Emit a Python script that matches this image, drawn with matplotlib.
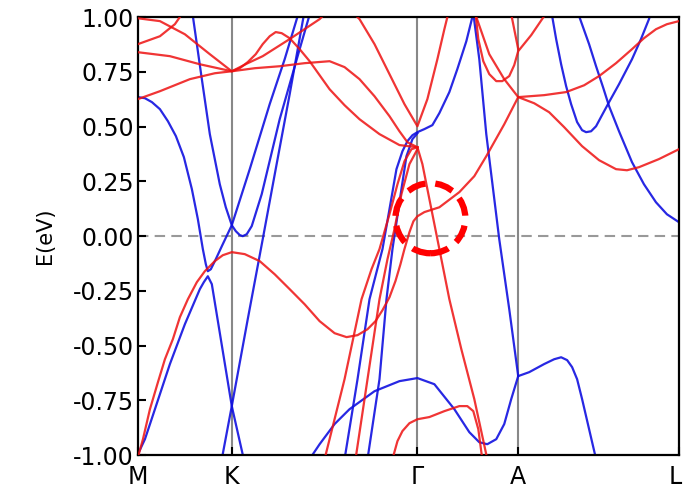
import matplotlib
matplotlib.use('Agg')
import matplotlib.pyplot as plt
import matplotlib.transforms as mtransforms
from matplotlib.patches import Ellipse

# puntos de alta simetria
kpath_labels = ['M', 'K', 'Γ', 'A', 'L']
kpath_pos = [0.0, 0.94, 2.80, 3.81, 5.42]

# ---- bandas rojas (k, E) ----
k_r1 = [0, 0.22, 0.47, 0.72, 0.94, 1.10, 1.25, 1.52, 1.82, 1.92]
e_r1 = [0.995, 0.982, 0.922, 0.831, 0.753, 0.790, 0.822, 0.900, 0.991, 1.037]

k_r2 = [0, 0.22, 0.37, 0.44]
e_r2 = [0.877, 0.913, 0.968, 1.014]

k_r3 = [0, 0.32, 0.62, 0.94, 1.17, 1.42, 1.67, 1.92, 2.07, 2.22, 2.37, 2.52, 2.62,
        2.70, 2.80]
e_r3 = [0.840, 0.822, 0.785, 0.753, 0.767, 0.776, 0.790, 0.799, 0.772, 0.717, 0.639,
        0.548, 0.479, 0.429, 0.406]

k_r4 = [0, 0.22, 0.52, 0.77, 0.94, 1.02, 1.10, 1.18, 1.25, 1.32, 1.38, 1.44, 1.52,
        1.62, 1.72, 1.82, 1.92, 2.07, 2.22, 2.42, 2.62, 2.80]
e_r4 = [0.626, 0.662, 0.717, 0.744, 0.753, 0.767, 0.795, 0.831, 0.877, 0.913, 0.932,
        0.927, 0.904, 0.854, 0.799, 0.735, 0.671, 0.598, 0.534, 0.466, 0.416, 0.406]

k_r5 = [2.12, 2.22, 2.37, 2.52, 2.67, 2.80, 2.90, 3.00, 3.07, 3.12]
e_r5 = [1.037, 0.991, 0.877, 0.740, 0.603, 0.502, 0.626, 0.808, 0.945, 1.037]

k_r6 = [2.80, 2.85, 2.92, 3.02, 3.12, 3.24, 3.37, 3.50]
e_r6 = [0.406, 0.329, 0.169, -0.059, -0.288, -0.516, -0.744, -1.018]

k_r7 = [0, 0.05, 0.12, 0.20, 0.27, 0.35, 0.42, 0.50, 0.59, 0.67, 0.77, 0.85, 0.94,
        1.07, 1.22, 1.37, 1.52, 1.67, 1.82, 1.97, 2.09, 2.20, 2.30, 2.38, 2.45,
        2.52, 2.58, 2.63, 2.67, 2.72, 2.76, 2.80, 2.87, 3.02, 3.22, 3.37, 3.49,
        3.67, 3.81, 3.97, 4.12, 4.27, 4.45, 4.62, 4.79, 4.90, 5.02, 5.22, 5.42]
e_r7 = [-1.009, -0.927, -0.790, -0.667, -0.562, -0.470, -0.370, -0.288, -0.210,
        -0.160, -0.114, -0.087, -0.073, -0.082, -0.114, -0.174, -0.242, -0.311,
        -0.388, -0.443, -0.461, -0.452, -0.425, -0.388, -0.338, -0.279, -0.205,
        -0.128, -0.059, 0.018, 0.068, 0.091, 0.110, 0.132, 0.201, 0.274, 0.365,
        0.511, 0.635, 0.607, 0.566, 0.498, 0.411, 0.347, 0.306, 0.301, 0.315,
        0.352, 0.397]

k_r8 = [3.37, 3.52, 3.67, 3.81, 4.07, 4.29, 4.47, 4.62, 4.79, 4.95, 5.07, 5.19,
        5.30, 5.42]
e_r8 = [1.027, 0.831, 0.717, 0.635, 0.644, 0.658, 0.689, 0.731, 0.790, 0.854,
        0.904, 0.945, 0.968, 0.982]

k_r9 = [3.38, 3.41, 3.46, 3.52, 3.59, 3.65, 3.72, 3.77, 3.81, 3.94, 4.07, 4.12]
e_r9 = [1.027, 0.900, 0.799, 0.740, 0.708, 0.708, 0.731, 0.781, 0.845, 0.918,
        1.005, 1.037]

k_r10 = [3.72, 3.76, 3.81]
e_r10 = [1.059, 0.968, 0.854]

k_r11 = [2.55, 2.60, 2.65, 2.72, 2.80, 2.92, 3.07, 3.22, 3.30, 3.36, 3.41, 3.45]
e_r11 = [-1.018, -0.936, -0.890, -0.854, -0.836, -0.826, -0.799, -0.776, -0.776,
         -0.799, -0.881, -1.018]

k_r12 = [1.87, 2.07, 2.24, 2.34, 2.42, 2.52, 2.60, 2.67, 2.74, 2.80]
e_r12 = [-1.018, -0.653, -0.288, -0.151, -0.059, 0.100, 0.237, 0.342, 0.397, 0.406]

k_r13 = [2.18, 2.30, 2.42, 2.50, 2.57, 2.64, 2.72, 2.80]
e_r13 = [-1.018, -0.653, -0.288, -0.105, 0.032, 0.192, 0.329, 0.397]

# ---- bandas azules ----
k_b1 = [0, 0.07, 0.14, 0.22, 0.30, 0.38, 0.46, 0.54, 0.60, 0.65, 0.68, 0.70, 0.73,
        0.78, 0.84, 0.94, 1.12, 1.32, 1.47, 1.60, 1.64]
e_b1 = [0.635, 0.630, 0.612, 0.580, 0.525, 0.457, 0.361, 0.215, 0.078, -0.059,
        -0.128, -0.160, -0.151, -0.105, -0.046, 0.050, 0.306, 0.603, 0.808, 1.005,
        1.059]

k_b2 = [0.53, 0.55, 0.64, 0.72, 0.82, 0.88, 0.94, 0.98, 1.02, 1.05, 1.09, 1.14,
        1.24, 1.42, 1.62, 1.75]
e_b2 = [1.059, 1.005, 0.717, 0.466, 0.237, 0.132, 0.050, 0.023, 0.005, 0.0, 0.009,
        0.046, 0.192, 0.534, 0.854, 1.059]

k_b3 = [0, 0.07, 0.17, 0.32, 0.47, 0.62, 0.66, 0.70, 0.74, 0.94, 1.06]
e_b3 = [-0.995, -0.927, -0.790, -0.584, -0.402, -0.242, -0.210, -0.183, -0.219,
        -0.776, -1.018]

k_b4 = [1.68, 1.66, 1.52, 1.38, 1.25, 1.10, 0.94, 0.84]
e_b4 = [1.059, 1.005, 0.648, 0.306, -0.014, -0.379, -0.776, -1.018]

k_b5 = [2.07, 2.20, 2.32, 2.45, 2.52, 2.59, 2.65, 2.70, 2.75, 2.80, 2.87, 2.95,
        3.02, 3.12, 3.20, 3.29, 3.36, 3.42, 3.49, 3.62, 3.72, 3.81, 3.92, 4.07,
        4.17, 4.24, 4.30, 4.35, 4.40, 4.45, 4.52, 4.59]
e_b5 = [-1.018, -0.653, -0.288, -0.059, 0.123, 0.306, 0.388, 0.434, 0.461, 0.475,
        0.489, 0.507, 0.562, 0.658, 0.763, 0.890, 1.018, 0.808, 0.466, -0.014,
        -0.333, -0.639, -0.621, -0.584, -0.562, -0.553, -0.566, -0.598, -0.653,
        -0.744, -0.881, -1.018]

k_b6 = [2.30, 2.42, 2.49, 2.55, 2.64, 2.69, 2.75, 2.80]
e_b6 = [-1.018, -0.653, -0.288, -0.059, 0.215, 0.365, 0.443, 0.470]

k_b7 = [1.72, 1.82, 1.97, 2.12, 2.37, 2.62, 2.80, 2.97, 3.17, 3.32, 3.42, 3.50, 3.59,
        3.67, 3.74, 3.81]
e_b7 = [-1.018, -0.950, -0.858, -0.790, -0.708, -0.662, -0.648, -0.676, -0.790,
        -0.895, -0.941, -0.950, -0.927, -0.858, -0.744, -0.639]

k_b8 = [4.13, 4.15, 4.19, 4.24, 4.29, 4.34, 4.40, 4.45, 4.49, 4.54, 4.59, 4.65,
        4.72, 4.82, 4.95, 5.04, 5.12, 5.17]
e_b8 = [1.059, 1.005, 0.900, 0.785, 0.685, 0.603, 0.521, 0.484, 0.475, 0.479,
        0.502, 0.553, 0.612, 0.694, 0.808, 0.900, 0.991, 1.059]

k_b9 = [4.39, 4.42, 4.52, 4.59, 4.66, 4.72, 4.82, 4.95, 5.07, 5.19, 5.30, 5.42]
e_b9 = [1.059, 1.005, 0.877, 0.776, 0.680, 0.594, 0.479, 0.338, 0.237, 0.155,
        0.100, 0.064]

red_bands = [(k_r1, e_r1), (k_r2, e_r2), (k_r3, e_r3), (k_r4, e_r4), (k_r5, e_r5),
             (k_r6, e_r6), (k_r7, e_r7), (k_r8, e_r8), (k_r9, e_r9), (k_r10, e_r10),
             (k_r11, e_r11), (k_r12, e_r12), (k_r13, e_r13)]
blue_bands = [(k_b1, e_b1), (k_b2, e_b2), (k_b3, e_b3), (k_b4, e_b4), (k_b5, e_b5),
              (k_b6, e_b6), (k_b7, e_b7), (k_b8, e_b8), (k_b9, e_b9)]

# circulo marcado (centro k, E y tamaño)
circle_k, circle_e = 2.93, 0.082
circle_w, circle_h = 0.70, 0.32

fig = plt.figure(figsize=(6.83, 4.91), dpi=100)
ax = fig.add_axes([0.202, 0.073, 0.792, 0.892])

for k in kpath_pos[1:-1]:
    ax.axvline(k, color='#888888', lw=1.5, zorder=1)
ax.axhline(0, color='#999999', lw=1.5, ls=(0, (5, 3)), zorder=1)

for k, e in blue_bands:
    ax.plot(k, e, color='#1010e0', lw=1.6, alpha=0.9, zorder=2)
for k, e in red_bands:
    ax.plot(k, e, color='#ee1111', lw=1.6, alpha=0.85, zorder=3)

ax.add_patch(Ellipse((circle_k, circle_e), circle_w, circle_h, fill=False,
                     edgecolor='red', lw=4.5, ls=(0, (3, 1.6)), zorder=4))

ax.set_xlim(kpath_pos[0], kpath_pos[-1])
ax.set_ylim(-1, 1)
ax.set_xticks(kpath_pos)
ax.set_xticklabels(kpath_labels)
ax.set_yticks([-1, -0.75, -0.5, -0.25, 0, 0.25, 0.5, 0.75, 1.0])
ax.yaxis.set_major_formatter(matplotlib.ticker.FormatStrFormatter('%.2f'))
ax.tick_params(direction='in', labelsize=17, length=6, width=1.5)
ax.tick_params(axis='y', pad=3)
ax.tick_params(axis='x', pad=7)
ax.set_ylabel('E(eV)', fontsize=15, labelpad=13)
for s in ax.spines.values():
    s.set_linewidth(1.6)

# la etiqueta L queda en el borde: se corre un poco a la izquierda
lab_L = ax.get_xticklabels()[-1]
lab_L.set_transform(lab_L.get_transform() +
                    mtransforms.ScaledTranslation(-4 / 100, 0, fig.dpi_scale_trans))

fig.savefig('out.png', dpi=100)
